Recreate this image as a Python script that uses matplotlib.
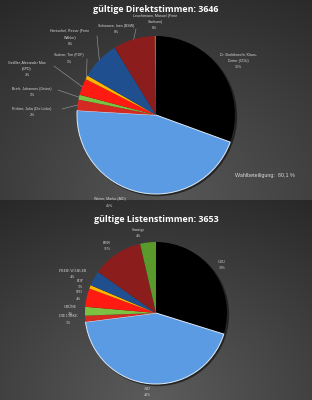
import numpy as np
import matplotlib
matplotlib.use("Agg")
import matplotlib.pyplot as plt

# Direktstimmen (Erststimmen), Reihenfolge im Uhrzeigersinn ab 12 Uhr
direkt_namen = ["Dr. Burlöknecht, Klaus-\nDieter (CDU)", "Winter, Marko (AfD)",
                "Richter, Julia (Die Linke)", "Brink, Johannes (Grüne)",
                "Geißler, Alexander Max\n(SPD)", "Suttner, Tim (FDP)",
                "Hentschel, Reiner (Freie\nWähler)", "Schwarze, Ines (BSW)",
                "Leuchtmann, Manuel (Freie\nSachsen)"]
direkt_anteile = [30.6, 45.4, 2.2, 1.0, 3.4, 0.8, 7.9, 8.5, 0.3]
direkt_prozent = ["31%", "45%", "2%", "1%", "3%", "1%", "8%", "9%", "0%"]
direkt_gesamt = 3646
wahlbeteiligung = "80,1 %"

# Listenstimmen (Zweitstimmen)
liste_parteien = ["CDU", "AfD", "DIE LINKE", "GRÜNE", "SPD", "FDP",
                  "FREIE WÄHLER", "BSW", "Sonstige"]
liste_anteile = [29.8, 43.2, 1.4, 2.0, 4.2, 0.8, 3.4, 11.6, 3.6]
liste_prozent = ["30%", "43%", "1%", "2%", "4%", "1%", "4%", "11%", "4%"]
liste_gesamt = 3653

farben_direkt = ["#000000", "#5b9be3", "#d42a22", "#7cc242", "#ff1a12",
                 "#ffb400", "#1f4f8e", "#8c1d1d", "#c55a11"]
farben_liste = ["#000000", "#5b9be3", "#d42a22", "#7cc242", "#ff1a12",
                "#ffb400", "#1f4f8e", "#8c1d1d", "#5a9a2c"]

W, H = 312, 400
fig = plt.figure(figsize=(W / 100, H / 100), dpi=100)
ax = fig.add_axes([0, 0, 1, 1])

# Hintergrund: zwei dunkle Verläufe
yy, xx = np.mgrid[0:H, 0:W]
bg = np.zeros((H, W))
oben = yy < 200
d1 = np.hypot((xx - 156) / 1.3, yy - 0) / 230
d2 = np.hypot((xx - 170) / 1.3, yy - 205) / 230
bg[oben] = (0.36 - 0.2 * np.clip(d1, 0, 1))[oben]
bg[~oben] = (0.34 - 0.18 * np.clip(d2, 0, 1))[~oben]
ax.imshow(np.dstack([bg, bg, bg]), extent=[0, W, H, 0], aspect="auto", zorder=0)


def pie_block(cx, cy, r, werte, farben, beschriftung, text_pos, linien, fam, fs):
    y = H - cy
    # leichter Schatten
    ax.add_patch(plt.Circle((cx + 1.5, y - 1.5), r, color="#151515", alpha=0.6, zorder=1))
    wedges, _ = ax.pie(werte, colors=farben, startangle=90, counterclock=False,
                       center=(cx, y), radius=r,
                       wedgeprops=dict(linewidth=0, zorder=2))
    wedges[1].set_edgecolor("#dce9f7")
    wedges[1].set_linewidth(0.7)
    for i, (w, txt) in enumerate(zip(wedges, beschriftung)):
        tx, ty = text_pos[i]
        ax.text(tx, H - ty, txt, ha="center", va="center", fontsize=fs,
                color="#d9d9d9", family=fam, linespacing=1.7, zorder=5)
        if linien[i] is not None:
            mid = np.deg2rad((w.theta1 + w.theta2) / 2)
            px, py = cx + r * np.cos(mid), y + r * np.sin(mid)
            lx, ly = linien[i]
            ax.plot([lx, px], [H - ly, py], color="#a0a0a0", lw=0.4, zorder=4)


# oberes Diagramm
pos_direkt = [(238, 61), (110, 202.5), (32, 112), (32, 92), (27, 69),
              (69, 58.5), (70, 37.5), (116, 29), (155, 22)]
lin_direkt = [None, None, (62, 109), (58, 90), (54, 66), (87, 59),
              (97, 36), (136, 29), None]
txt_direkt = [n + "\n" + p for n, p in zip(direkt_namen, direkt_prozent)]
pie_block(156, 115, 79, direkt_anteile, farben_direkt, txt_direkt,
          pos_direkt, lin_direkt, ["Liberation Sans", "DejaVu Sans"], 2.6)
ax.text(156, H - 10, f"gültige Direktstimmen: {direkt_gesamt}", ha="center",
        va="center", fontsize=6.4, fontweight="bold", color="white",
        family="Open Sans", zorder=5)
ax.text(265, H - 176, f"Wahlbeteiligung:  {wahlbeteiligung}", ha="center",
        va="center", fontsize=3.9, color="#d9d9d9", family="Liberation Sans", zorder=5)

# unteres Diagramm
pos_liste = [(222, 265), (147, 392), (68, 319.5), (70, 310.5), (79, 295.5),
             (80, 284), (73, 274), (107, 246), (138, 233)]
lin_liste = [None] * 9
txt_liste = [n + "\n" + p for n, p in zip(liste_parteien, liste_prozent)]
pie_block(156, 313, 71, liste_anteile, farben_liste, txt_liste,
          pos_liste, lin_liste, ["Liberation Serif", "DejaVu Serif"], 2.8)
ax.text(156, H - 219, f"gültige Listenstimmen: {liste_gesamt}", ha="center",
        va="center", fontsize=6.4, fontweight="bold", color="white",
        family="Open Sans", zorder=5)

ax.set_xlim(0, W)
ax.set_ylim(0, H)
ax.set_aspect("auto")
ax.axis("off")
fig.savefig("out.png", dpi=100)
